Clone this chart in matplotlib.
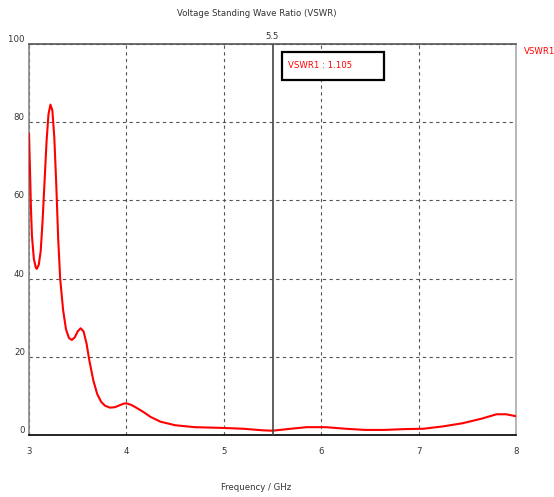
import numpy as np
import matplotlib
matplotlib.use("Agg")
import matplotlib.pyplot as plt
from matplotlib.patches import Rectangle

plt.rcParams['font.family'] = ['DejaVu Sans']
plt.rcParams['font.stretch'] = 'condensed'

# VSWR
freq = [3.00, 3.01, 3.02, 3.03, 3.05, 3.07, 3.08, 3.10, 3.12, 3.14, 3.16,
        3.18, 3.20, 3.22, 3.24, 3.26, 3.28, 3.30, 3.32, 3.35, 3.38, 3.41,
        3.44, 3.47, 3.50, 3.53, 3.56, 3.59, 3.62, 3.66, 3.70, 3.74, 3.78,
        3.83, 3.88, 3.93, 3.97, 4.00, 4.05, 4.10, 4.18, 4.25, 4.35, 4.50,
        4.70, 5.00, 5.20, 5.40, 5.50, 5.65, 5.85, 6.05, 6.25, 6.45, 6.65,
        6.85, 7.05, 7.25, 7.45, 7.65, 7.80, 7.90, 8.00]
vswr = [77.0, 68.0, 58.0, 51.0, 45.0, 42.8, 42.5, 43.5, 47.0, 55.0, 65.0,
        75.0, 82.0, 84.5, 83.0, 76.0, 64.0, 50.0, 40.0, 32.0, 27.0, 24.8,
        24.3, 25.0, 26.5, 27.3, 26.5, 23.5, 19.0, 14.0, 10.5, 8.5, 7.5,
        7.0, 7.1, 7.6, 8.0, 8.1, 7.7, 7.0, 5.8, 4.6, 3.4, 2.5,
        2.0, 1.8, 1.6, 1.2, 1.1, 1.5, 2.0, 2.0, 1.6, 1.3, 1.3,
        1.5, 1.6, 2.2, 3.0, 4.2, 5.3, 5.3, 4.8]

marker_x = 5.5
marker_val = 1.105
xticks = [3, 4, 5, 6, 7, 8]
yticks = [0, 20, 40, 60, 80, 100]

fs = 6.8
fig = plt.figure(figsize=(5.54, 4.97), dpi=100)
ax = fig.add_axes([29/554, 1-435/497, (516-29)/554, (435-44)/497])

ax.plot(freq, vswr, color='#ff0000', lw=1.5, zorder=3)
ax.set_xlim(3, 8)
ax.set_ylim(0, 100)
ax.set_xticks(xticks)
ax.set_yticks(yticks)
ax.tick_params(length=0, labelsize=fs, colors='#333333')
ax.tick_params(axis='x', pad=9)
ax.tick_params(axis='y', pad=3)
for lbl in ax.get_yticklabels():
    lbl.set_verticalalignment('bottom')
ax.grid(True, ls=(0, (3, 3)), color='#555555', lw=0.8)

ax.spines['top'].set_color('#555555')
ax.spines['left'].set_color('#888888')
ax.spines['right'].set_color('#aaaaaa')
ax.spines['bottom'].set_color('black')
for s in ax.spines.values():
    s.set_linewidth(1.2)

# marker
ax.axvline(marker_x, color='#444444', lw=1.2, zorder=4)
ax.text(marker_x, 100.8, str(marker_x), ha='center', va='bottom', fontsize=fs, color='#333333')
box = Rectangle((5.598, 90.8), 1.047, 7.15, fc='white', ec='black', lw=1.6, zorder=5)
ax.add_patch(box)
ax.text(5.66, 94.4, 'VSWR1 : %.3f' % marker_val, color='#ff0000', fontsize=fs,
        ha='left', va='center', zorder=6)

fig.text(524/554, 1-52/497, 'VSWR1', color='#ff0000', fontsize=fs, va='center')
fig.text(257/554, 1-13/497, 'Voltage Standing Wave Ratio (VSWR)', fontsize=fs,
         ha='center', va='center', color='#333333')
fig.text(256/554, 1-487/497, 'Frequency / GHz', fontsize=fs, ha='center', va='center',
         color='#333333')

fig.savefig('out.png', dpi=100)
